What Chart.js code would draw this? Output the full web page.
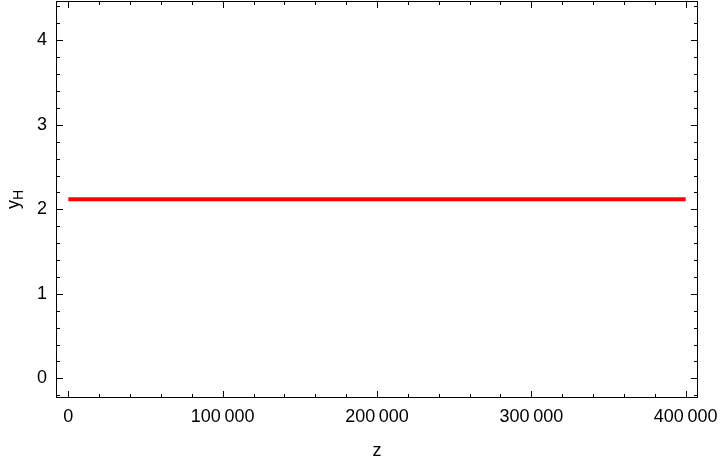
<!DOCTYPE html>
<html>
<head>
<meta charset="utf-8">
<script src="https://cdn.jsdelivr.net/npm/chart.js@4/dist/chart.umd.min.js"></script>
<style>
  html, body { margin: 0; padding: 0; background: #fff; }
  #wrap { width: 720px; height: 462px; }
</style>
</head>
<body>
<div id="wrap"><canvas id="chart"></canvas></div>
<script>
// data
const zValues = [0, 400000];
const yHValues = [2.118, 2.118];
const xTickValues = [0, 100000, 200000, 300000, 400000];
const yTickValues = [0, 1, 2, 3, 4];
const xMinorStep = 20000;
const yMinorStep = 0.2;

const FONT = '"Liberation Sans", Arial, sans-serif';
const FONT_SIZE = 18;

function formatThousands(v) {
    // Mathematica style: 100 000 with a thin gap
    return String(v).replace(/\B(?=(\d{3})+(?!\d))/g, '\u2009');
}

// no extra room for overflowing tick labels, the frame fills the page like the original
function noScalePadding(s) {
    s.paddingTop = 0;
    s.paddingBottom = 0;
    s.paddingLeft = 0;
    s.paddingRight = 0;
}

// frame, inward ticks on all four sides and the axis titles
const framePlugin = {
    id: 'frame',
    afterDraw(chart) {
        const ctx = chart.ctx;
        const a = chart.chartArea;
        const xs = chart.scales.x;
        const ys = chart.scales.y;
        ctx.save();
        ctx.strokeStyle = '#000';
        ctx.lineWidth = 1;
        ctx.strokeRect(a.left + 0.5, a.top + 0.5, a.right - a.left - 1, a.bottom - a.top - 1);

        const major = 7, minor = 4;
        ctx.beginPath();
        // x ticks
        for (let v = 0; v <= xs.max; v += xMinorStep) {
            if (v < xs.min) continue;
            const px = Math.round(xs.getPixelForValue(v)) + 0.5;
            const len = xTickValues.includes(v) ? major : minor;
            ctx.moveTo(px, a.bottom); ctx.lineTo(px, a.bottom - len);
            ctx.moveTo(px, a.top); ctx.lineTo(px, a.top + len);
        }
        // y ticks (start one minor step below 0)
        for (let i = -1; ; i++) {
            const v = +(i * yMinorStep).toFixed(4);
            if (v > ys.max) break;
            if (v < ys.min) continue;
            const py = Math.round(ys.getPixelForValue(v)) + 0.5;
            const len = yTickValues.includes(v) ? major : minor;
            ctx.moveTo(a.left, py); ctx.lineTo(a.left + len, py);
            ctx.moveTo(a.right, py); ctx.lineTo(a.right - len, py);
        }
        ctx.stroke();

        // axis titles
        ctx.fillStyle = '#000';
        ctx.font = FONT_SIZE + 'px ' + FONT;
        ctx.textAlign = 'center';
        ctx.textBaseline = 'middle';
        ctx.fillText('z', (a.left + a.right) / 2, 451);

        ctx.translate(16, (a.top + a.bottom) / 2);
        ctx.rotate(-Math.PI / 2);
        ctx.textAlign = 'left';
        const yw = ctx.measureText('y').width;
        ctx.font = '14px ' + FONT;
        const hw = ctx.measureText('H').width;
        const start = -(yw + hw) / 2;
        ctx.font = FONT_SIZE + 'px ' + FONT;
        ctx.fillText('y', start, -2);
        ctx.font = '14px ' + FONT;
        ctx.fillText('H', start + yw, 3);
        ctx.restore();
    }
};

new Chart(document.getElementById('chart'), {
    type: 'line',
    data: {
        datasets: [{
            data: zValues.map((z, i) => ({ x: z, y: yHValues[i] })),
            borderColor: '#ff0000',
            borderWidth: 4,
            pointRadius: 0,
            fill: false,
            tension: 0
        }]
    },
    options: {
        responsive: true,
        maintainAspectRatio: false,
        animation: false,
        layout: { padding: { top: 1, right: 22, left: 0, bottom: 0 } },
        plugins: {
            legend: { display: false },
            tooltip: { enabled: false }
        },
        scales: {
            x: {
                type: 'linear',
                min: -8000,
                max: 408000,
                afterBuildTicks: s => { s.ticks = xTickValues.map(v => ({ value: v })); },
                afterFit: s => { s.height = 64; noScalePadding(s); },
                grid: { display: false, drawTicks: false },
                border: { display: false },
                ticks: {
                    padding: 8,
                    maxRotation: 0,
                    autoSkip: false,
                    color: '#000',
                    font: { family: FONT, size: FONT_SIZE },
                    callback: v => formatThousands(v)
                }
            },
            y: {
                type: 'linear',
                min: -0.233,
                max: 4.465,
                afterBuildTicks: s => { s.ticks = yTickValues.map(v => ({ value: v })); },
                afterFit: s => { s.width = 56; noScalePadding(s); },
                grid: { display: false, drawTicks: false },
                border: { display: false },
                ticks: {
                    padding: 9,
                    autoSkip: false,
                    color: '#000',
                    font: { family: FONT, size: FONT_SIZE }
                }
            }
        }
    },
    plugins: [framePlugin]
});
</script>
</body>
</html>
